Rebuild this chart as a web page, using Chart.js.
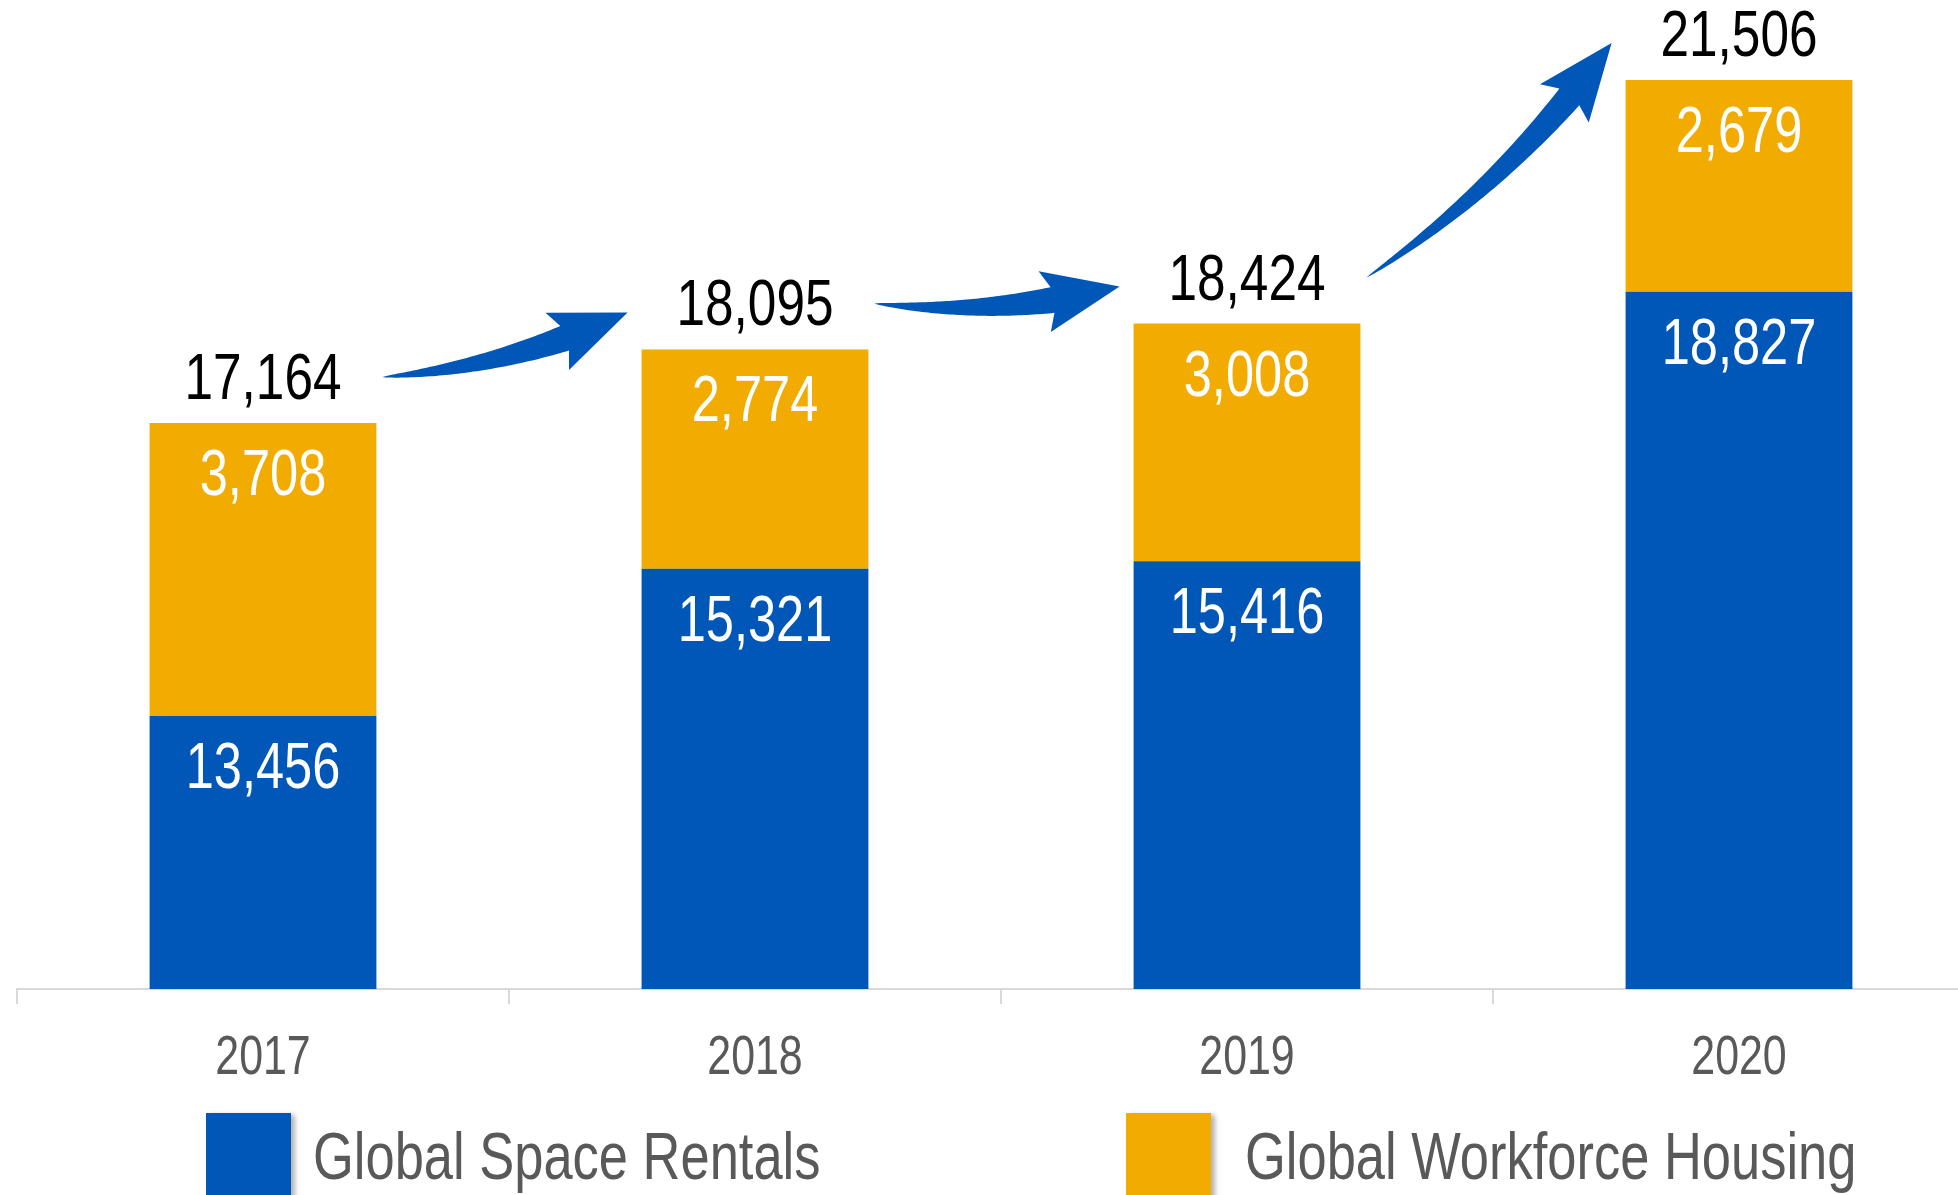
<!DOCTYPE html>
<html>
<head>
<meta charset="utf-8">
<script src="https://cdn.jsdelivr.net/npm/chart.js@4/dist/chart.umd.min.js"></script>
<style>
  html, body { margin: 0; padding: 0; background: #fff; overflow: hidden; width: 1958px; height: 1195px; }
  #wrap { position: relative; width: 1958px; height: 1195px; overflow: hidden; }
  canvas { position: absolute; left: 0; top: 0; }
</style>
</head>
<body>
<div id="wrap">
  <canvas id="c" width="1990" height="1195"></canvas>
</div>
<script>
// ---- data ----
const categories = ['2017', '2018', '2019', '2020'];
const spaceRentals = [13456, 15321, 15416, 18827];
const workforceHousing = [3708, 2774, 3008, 2679];
const seriesNames = ['Global Space Rentals', 'Global Workforce Housing'];
const seriesColors = ['#0057B8', '#F2AB00'];
const yMin = 10000;
const yMax = 22000;

const FONT = "'Liberation Sans', Arial, sans-serif";
const ARROW_COLOR = '#0057B8';

function condText(ctx, text, x, y, size, sx, color, align) {
  ctx.save();
  ctx.font = size + 'px ' + FONT;
  ctx.fillStyle = color;
  ctx.textAlign = align || 'center';
  ctx.textBaseline = 'alphabetic';
  ctx.translate(x, y);
  ctx.scale(sx, 1);
  ctx.fillText(text, 0, 0);
  ctx.restore();
}

function drawArrow(ctx, x0, y0, x1, y1) {
  const dx = x1 - x0, dy = y1 - y0, L = Math.hypot(dx, dy);
  const nx = -dy / L, ny = dx / L;
  const cx = (x0 + x1) / 2 + nx * L * 0.09, cy = (y0 + y1) / 2 + ny * L * 0.09;
  const q = t => ({
    x: (1 - t) * (1 - t) * x0 + 2 * (1 - t) * t * cx + t * t * x1,
    y: (1 - t) * (1 - t) * y0 + 2 * (1 - t) * t * cy + t * t * y1
  });
  const dq = t => ({
    x: 2 * (1 - t) * (cx - x0) + 2 * t * (x1 - cx),
    y: 2 * (1 - t) * (cy - y0) + 2 * t * (y1 - cy)
  });
  const headLen = 68, headHalf = 31, bodyW = 26;
  let tB = 1;
  while (tB > 0) {
    const p = q(tB);
    if (Math.hypot(x1 - p.x, y1 - p.y) >= headLen) break;
    tB -= 0.002;
  }
  const B = q(tB);
  let hx = x1 - B.x, hy = y1 - B.y; const hl = Math.hypot(hx, hy); hx /= hl; hy /= hl;
  const hnx = -hy, hny = hx;
  const upper = [], lower = [];
  const N = 60;
  for (let k = 0; k <= N; k++) {
    const t = tB * k / N;
    const p = q(t), d = dq(t); const dl = Math.hypot(d.x, d.y);
    const px = -d.y / dl, py = d.x / dl;
    const w = (bodyW / 2) * Math.pow(k / N, 0.75);
    upper.push([p.x + px * w, p.y + py * w]);
    lower.push([p.x - px * w, p.y - py * w]);
  }
  ctx.beginPath();
  ctx.moveTo(upper[0][0], upper[0][1]);
  upper.forEach(pt => ctx.lineTo(pt[0], pt[1]));
  ctx.lineTo(B.x + hnx * headHalf - hx * 8, B.y + hny * headHalf - hy * 8);
  ctx.lineTo(x1, y1);
  ctx.lineTo(B.x - hnx * headHalf - hx * 8, B.y - hny * headHalf - hy * 8);
  for (let k = lower.length - 1; k >= 0; k--) ctx.lineTo(lower[k][0], lower[k][1]);
  ctx.closePath();
  ctx.fillStyle = ARROW_COLOR;
  ctx.fill();
}

const labelsPlugin = {
  id: 'valueLabels',
  afterDatasetsDraw(chart) {
    const ctx = chart.ctx;
    // segment values
    chart.data.datasets.forEach((ds, di) => {
      const meta = chart.getDatasetMeta(di);
      meta.data.forEach((bar, i) => {
        condText(ctx, ds.data[i].toLocaleString('en-US'), bar.x, bar.y + 72, 64, 0.79, '#FFFFFF');
      });
    });
    // totals + arrows
    const topMeta = chart.getDatasetMeta(chart.data.datasets.length - 1);
    const pts = [];
    topMeta.data.forEach((bar, i) => {
      const total = chart.data.datasets.reduce((s, d) => s + d.data[i], 0);
      const base = bar.y - 24;
      condText(ctx, total.toLocaleString('en-US'), bar.x, base, 65, 0.79, '#000000');
      pts.push({ x: bar.x, half: bar.width / 2, y: base - 23 });
    });
    for (let i = 0; i < pts.length - 1; i++) {
      drawArrow(ctx, pts[i].x + pts[i].half + 6, pts[i].y + 1,
                     pts[i + 1].x - pts[i + 1].half - 14, pts[i + 1].y + 10);
    }
  },
  afterDraw(chart) {
    const ctx = chart.ctx;
    const xs = chart.scales.x;
    const bottom = chart.chartArea.bottom;
    // category labels
    chart.data.labels.forEach((lab, i) => {
      condText(ctx, lab, xs.getPixelForValue(i), bottom + 85, 55, 0.78, '#595959');
    });
    // legend
    const legendLeft = [206, 1126];
    const legendGap = [107, 119];
    chart.data.datasets.forEach((ds, i) => {
      const x = legendLeft[i];
      ctx.save();
      ctx.shadowColor = 'rgba(0,0,0,0.30)';
      ctx.shadowOffsetX = 4;
      ctx.shadowOffsetY = 2;
      ctx.shadowBlur = 5;
      ctx.fillStyle = ds.backgroundColor;
      ctx.fillRect(x, bottom + 124, 85, 100);
      ctx.restore();
      condText(ctx, ds.label, x + legendGap[i], bottom + 190, 66, 0.795, '#595959', 'left');
    });
  }
};

const chart = new Chart(document.getElementById('c'), {
  type: 'bar',
  data: {
    labels: categories,
    datasets: [
      { label: seriesNames[0], data: spaceRentals, backgroundColor: seriesColors[0] },
      { label: seriesNames[1], data: workforceHousing, backgroundColor: seriesColors[1] }
    ]
  },
  options: {
    responsive: false,
    animation: false,
    devicePixelRatio: 1,
    layout: { padding: { left: 17, right: 5, top: 41, bottom: 191 } },
    datasets: { bar: { categoryPercentage: 1.0, barPercentage: 0.461, borderWidth: 0 } },
    plugins: { legend: { display: false }, tooltip: { enabled: false } },
    scales: {
      x: {
        stacked: true,
        grid: { display: true, drawOnChartArea: false, drawTicks: true, tickLength: 15, color: '#D9D9D9', lineWidth: 2 },
        border: { display: true, color: '#D9D9D9', width: 2 },
        ticks: { display: false }
      },
      y: {
        stacked: true, display: false, min: yMin, max: yMax
      }
    }
  },
  plugins: [labelsPlugin]
});
</script>
</body>
</html>
